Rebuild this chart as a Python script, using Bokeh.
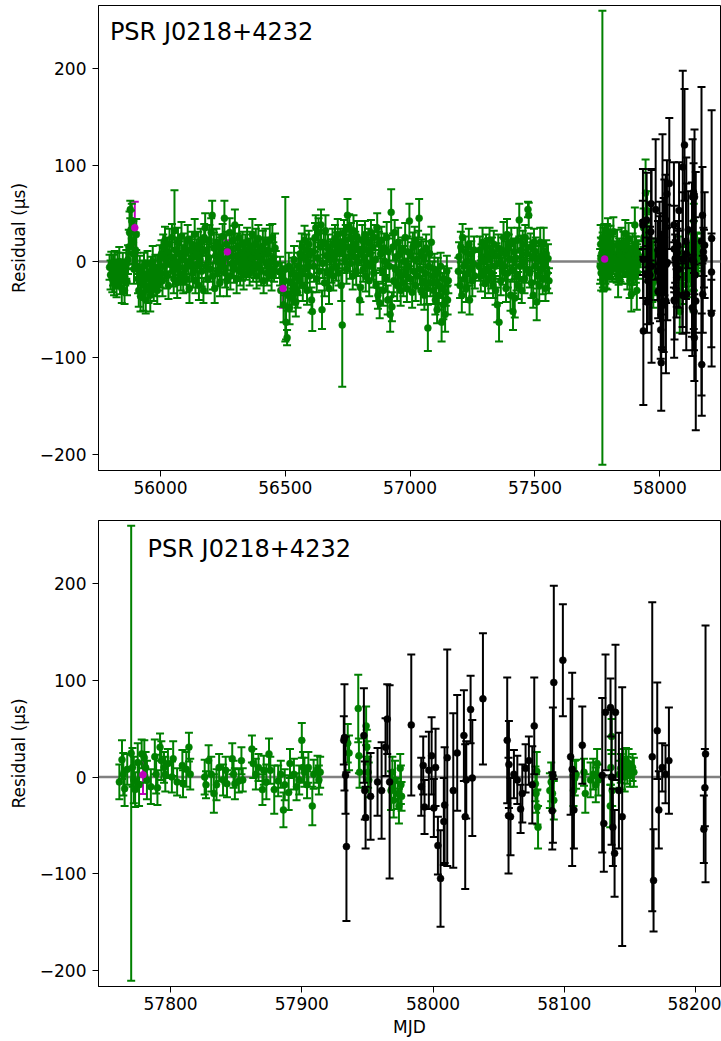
import numpy as np
from bokeh.plotting import figure
from bokeh.layouts import column
from bokeh.models import Range1d, Span, Label, FixedTicker, ColumnDataSource
from bokeh.embed import file_html
from bokeh.resources import INLINE

# ---------------- data (MJD, residual in us, uncertainty in us) ----------------
psr_name = "PSR J0218+4232"
y_label = "Residual (μs)"
x_label = "MJD"
top_xticks = [56000, 56500, 57000, 57500, 58000]
bottom_xticks = [57800, 57900, 58000, 58100, 58200]
yticks = [-200, -100, 0, 100, 200]
ytick_text = {-200: "−200", -100: "−100", 0: "0", 100: "100", 200: "200"}

green_early = [
    (55796, -6, 13), (55800, -14, 15), (55803, -2, 12), (55807, -18, 14), (55810, -9, 16),
    (55814, -22, 13), (55817, -4, 15), (55821, -12, 14), (55824, -25, 12), (55828, -7, 16),
    (55831, -15, 13), (55835, 0, 15), (55838, -20, 14), (55842, -10, 12), (55845, -28, 15),
    (55849, -5, 14), (55852, -17, 16), (55856, -30, 14), (55859, -12, 13), (55863, -3, 15),
    (55866, -21, 14),
    (55870, 2, 15), (55873, 15, 18), (55876, 30, 22), (55879, 54, 9), (55882, 33, 20),
    (55885, 42, 18), (55888, 8, 16), (55891, 20, 22), (55894, -8, 15), (55900, 12, 18),
    (55903, 28, 16), (55906, -5, 14),
    (55910, -18, 15), (55913, -30, 17), (55917, -8, 14), (55920, -36, 16), (55924, -22, 15),
    (55927, -12, 13), (55931, -33, 18), (55934, -5, 14), (55938, -25, 15), (55941, -40, 14),
    (55945, -15, 16), (55948, -2, 13), (55952, -28, 15), (55955, -18, 14), (55959, -35, 17),
    (55962, -10, 15), (55966, -22, 13), (55969, 0, 16), (55973, -27, 14), (55976, -14, 15),
    (55980, -6, 13), (55983, -20, 16), (55987, -30, 14), (55990, -9, 15), (55994, -17, 13),
    (55997, 3, 14),
    (56001, -12, 15), (56004, 8, 14), (56008, -20, 16), (56011, 15, 13), (56015, -5, 15),
    (56018, 22, 14), (56022, 2, 16), (56025, -15, 13), (56029, 10, 15), (56032, -25, 14),
    (56036, 18, 16), (56039, -3, 13), (56043, 5, 15), (56046, 25, 14), (56050, -10, 16),
    (56053, -18, 15), (56056, 32, 42), (56060, 0, 14), (56063, 12, 13), (56067, -22, 16),
    (56070, 20, 15), (56074, -6, 14), (56077, 8, 13), (56081, -14, 16), (56084, 26, 15),
    (56088, 3, 14), (56091, -20, 13), (56095, 14, 15), (56098, -8, 16),
    (56102, 10, 15), (56105, -18, 14), (56109, 22, 16), (56112, 0, 13), (56116, -28, 15),
    (56119, 12, 14), (56123, -5, 16), (56126, 18, 13), (56130, -12, 15), (56133, 5, 14),
    (56137, 28, 16), (56140, -20, 13), (56144, 8, 15), (56147, -3, 14), (56151, 15, 16),
    (56154, -25, 15), (56158, 2, 13), (56161, 20, 14), (56165, -10, 16), (56168, 10, 15),
    (56172, -30, 13), (56175, 25, 14), (56179, 35, 15), (56182, -5, 16), (56186, 12, 13),
    (56189, -18, 15), (56193, 4, 14), (56196, 22, 16), (56200, -8, 13), (56203, 30, 15),
    (56207, 48, 15), (56210, -15, 14), (56214, 14, 16), (56217, -28, 15), (56221, 6, 13),
    (56224, 20, 14), (56228, -10, 16), (56231, 0, 15), (56235, 15, 13), (56238, -22, 14),
    (56242, 9, 16), (56245, -4, 15), (56249, 26, 13),
    (56252, 2, 14), (56256, 45, 18), (56259, -12, 15), (56263, 18, 13), (56266, -20, 16),
    (56270, 5, 14), (56277, 30, 15), (56280, -15, 14), (56284, 12, 16), (56287, -2, 13),
    (56291, 22, 15), (56294, -8, 14), (56298, 38, 16), (56301, 6, 13), (56305, -18, 15),
    (56308, 15, 14), (56312, 0, 16), (56315, 25, 13), (56319, -10, 15), (56322, 8, 14),
    (56326, -4, 16), (56329, 18, 13), (56333, -14, 15), (56336, 3, 14), (56340, 12, 16),
    (56343, -6, 13), (56347, 20, 15), (56350, -2, 14), (56354, 8, 16), (56357, -12, 13),
    (56361, 16, 15), (56364, 4, 14), (56368, 28, 16), (56371, -8, 13), (56375, 10, 15),
    (56378, -3, 14), (56382, 18, 16), (56385, -15, 13), (56389, 6, 15), (56392, 24, 14),
    (56396, -5, 16), (56399, 12, 13), (56403, -10, 15), (56406, 2, 14), (56410, 16, 16),
    (56413, -20, 13), (56417, 8, 15), (56420, 20, 14), (56424, -2, 16), (56427, -12, 13),
    (56431, 10, 15), (56434, -6, 14), (56438, 22, 16), (56441, 0, 13), (56445, -15, 15),
    (56448, 25, 14), (56452, 4, 16), (56455, -8, 13), (56459, 14, 15), (56462, -3, 14),
    (56479, -10, 15), (56482, -30, 17), (56486, -15, 14), (56493, -45, 18), (56497, -20, 15),
    (56500, -8, 75), (56503, -63, 18), (56507, -79, 8), (56510, -35, 16), (56514, -5, 14),
    (56517, -48, 17), (56521, -22, 15), (56524, -38, 14), (56528, -12, 16), (56531, -30, 15),
    (56535, 2, 14), (56538, -25, 16), (56542, -42, 15), (56545, -15, 13), (56549, -32, 16),
    (56552, -5, 14), (56556, -20, 15), (56559, 8, 13),
    (56563, -12, 15), (56566, 15, 14), (56570, -25, 16), (56573, 5, 13), (56577, 22, 15),
    (56580, -8, 14), (56584, 12, 16), (56587, -30, 15), (56591, 0, 13), (56594, 18, 14),
    (56598, -15, 16), (56601, 8, 15), (56605, -40, 13), (56608, -52, 20), (56612, 10, 14),
    (56615, -5, 16), (56619, 25, 15), (56622, 35, 13), (56626, -18, 14), (56629, 4, 16),
    (56633, 30, 15), (56636, -10, 13), (56640, 15, 14), (56643, 38, 16), (56647, -50, 20),
    (56650, -2, 15), (56654, 20, 13), (56657, -22, 14), (56661, 32, 16), (56664, 6, 15),
    (56668, -12, 13), (56671, 14, 14), (56675, -28, 16), (56678, 2, 15), (56682, 10, 13),
    (56685, -8, 14), (56689, 18, 16), (56692, -15, 15), (56696, 5, 13), (56699, 24, 14),
    (56703, -5, 15), (56706, 16, 14), (56710, 28, 16), (56713, -12, 13), (56717, 8, 15),
    (56720, 20, 14), (56724, -25, 16), (56728, -66, 64), (56731, 12, 15), (56735, 30, 13),
    (56738, 2, 14), (56742, 22, 16), (56745, -8, 15), (56749, 48, 17), (56752, 15, 13),
    (56756, 35, 14), (56759, -2, 16), (56763, 25, 15), (56766, 10, 13), (56770, -15, 14),
    (56773, 32, 16), (56777, 5, 15), (56780, 18, 13), (56784, -10, 14), (56787, 26, 16),
    (56791, 0, 15), (56794, 12, 13), (56798, -40, 15),
    (56801, -27, 15), (56805, 10, 14), (56808, 22, 16), (56812, -8, 13), (56815, 5, 15),
    (56819, 28, 14), (56822, -15, 16), (56826, 12, 13), (56829, -3, 15), (56833, 20, 14),
    (56836, -20, 16), (56840, 8, 15), (56843, 30, 13), (56847, -5, 14), (56850, 15, 16),
    (56854, -12, 15), (56857, 25, 13), (56861, 2, 14), (56864, -25, 16), (56868, 35, 15),
    (56871, -35, 14), (56875, 18, 13), (56878, -43, 16), (56882, 8, 15), (56885, 22, 14),
    (56889, -10, 13), (56892, -30, 16), (56896, 14, 15), (56899, 0, 14), (56903, -18, 13),
    (56906, 25, 16), (56910, -40, 15), (56913, 10, 14), (56917, -5, 16), (56920, -55, 18),
    (56924, 51, 24), (56927, -47, 15), (56931, 15, 14), (56934, -20, 16), (56938, 30, 13),
    (56941, -8, 15), (56945, 5, 14), (56948, -25, 16), (56952, 20, 15), (56955, -12, 13),
    (56959, 8, 14), (56962, -30, 16), (56966, -15, 15), (56969, 12, 13), (56973, -22, 14),
    (56976, 0, 16), (56980, 25, 15), (56983, -10, 13), (56987, -28, 14), (56990, 10, 16),
    (56994, -5, 15), (56997, 42, 18), (57001, -18, 13), (57004, 6, 14), (57008, -32, 16),
    (57011, 15, 15), (57015, -10, 13), (57018, 22, 14), (57022, -25, 16), (57025, 2, 15),
    (57029, -15, 13), (57032, 18, 14), (57036, 45, 20), (57039, -8, 16), (57043, -30, 15),
    (57046, 10, 13), (57050, -20, 14), (57053, 5, 16), (57057, -35, 15), (57060, -12, 13),
    (57064, 14, 14), (57067, -28, 16), (57071, -69, 24), (57074, -5, 15), (57078, 8, 13),
    (57081, -22, 14), (57085, 20, 16),
    (57090, -15, 15), (57094, -30, 14), (57097, -8, 16), (57101, -40, 15), (57104, -22, 13),
    (57108, -50, 14), (57111, -12, 16), (57115, -35, 15), (57118, -25, 13), (57122, -5, 14),
    (57126, -63, 20), (57129, -28, 16), (57133, -45, 15), (57136, -18, 13), (57140, -55, 18),
    (57143, -32, 14), (57147, -10, 16), (57150, -40, 15), (57153, -20, 13),
    (57193, -10, 14), (57196, 5, 15), (57200, -25, 13), (57203, 15, 16), (57207, -35, 18),
    (57210, 25, 14), (57214, -5, 15), (57217, -18, 13), (57221, 10, 16), (57224, -28, 14),
    (57228, 0, 15), (57231, -12, 13), (57235, 18, 16), (57238, -40, 15), (57242, -8, 14),
    (57245, 8, 13), (57249, -20, 16), (57252, -2, 15), (57256, 12, 14), (57259, -15, 13),
    (57276, -5, 15), (57279, 12, 14), (57283, -15, 16), (57286, 5, 13), (57290, 20, 15),
    (57293, -10, 14), (57297, 0, 16), (57300, -23, 15), (57304, 15, 13), (57307, -8, 14),
    (57311, 8, 16), (57314, -18, 15), (57318, 22, 13), (57321, 2, 14), (57325, -12, 16),
    (57328, 10, 15), (57332, -25, 13), (57335, 18, 14), (57339, -5, 16), (57342, -30, 15),
    (57346, 6, 13), (57349, -45, 18), (57353, 14, 14), (57356, -63, 20), (57360, -2, 16),
    (57363, -20, 15), (57367, 12, 13), (57370, -10, 14), (57374, 25, 16), (57377, -5, 15),
    (57381, 8, 13), (57384, -28, 14), (57388, 28, 16), (57391, -12, 15), (57395, 15, 13),
    (57398, 2, 14), (57402, -35, 16), (57405, 20, 15), (57409, -8, 13), (57412, -52, 19),
    (57416, 10, 14), (57419, -38, 20), (57423, 4, 16), (57426, -15, 15), (57430, 22, 13),
    (57433, -25, 14), (57437, 43, 17), (57440, -5, 16), (57444, 12, 15), (57447, -30, 13),
    (57451, 18, 14), (57454, 0, 16), (57458, -18, 15), (57461, 25, 13), (57465, -8, 14),
    (57468, 8, 16), (57472, 54, 8), (57475, 48, 13), (57479, -12, 15), (57482, 15, 14),
    (57486, -22, 16), (57489, 5, 15), (57493, -35, 13), (57496, 20, 14), (57500, -5, 16),
    (57503, 10, 15), (57507, -42, 19), (57510, -15, 13), (57514, 2, 14), (57517, -25, 16),
    (57521, 20, 15), (57524, -8, 13), (57528, 6, 14), (57531, -18, 16), (57535, 18, 17),
    (57538, -2, 15), (57542, -28, 13), (57545, 8, 14), (57549, -12, 16), (57552, 3, 15),
    (57556, -20, 13),
]

green_late = [
    (57761, -5, 18), (57763, 18, 20), (57764, 3, 22), (57765, -12, 18), (57767, 8, 16),
    (57770, 24.6, 235.6), (57771, 10, 20), (57772, -3, 24), (57773, -13, 18), (57775, 15, 20),
    (57776, -8, 22), (57778, 24, 15), (57780, 20, 18), (57781, 10, 16), (57782, -3, 20),
    (57785, -10, 18), (57788, 21, 18), (57789, 3, 20), (57790, -11, 18), (57792, 31, 14),
    (57793, 17, 20), (57795, 10, 16), (57796, 3, 18), (57798, 14, 15), (57801, 0, 16),
    (57802, 19, 18), (57805, -5, 14), (57809, 12, 16), (57809.5, -7, 14), (57812, 8, 18),
    (57814, 31, 15), (57815, 3, 16), (57826, 0, 18), (57827, -8, 14), (57829, 17, 16),
    (57831, 3, 18), (57833, -17, 20), (57835, -8, 16), (57837, 10, 14), (57840, -3, 16),
    (57842, 7, 14), (57843, -7, 14), (57847, 19, 16), (57848, 3, 14), (57849, -7, 16),
    (57852, -4, 12), (57854, 17, 14), (57855, -3, 12), (57862, 29, 14), (57863, 14, 15),
    (57865, 3, 16), (57867, 10, 14), (57870, -13, 16), (57871, 7, 15), (57873, -5, 18),
    (57875, 24, 16), (57876, 7, 14), (57879, -13, 25), (57882, -4, 16), (57884, 3, 14),
    (57886, -34, 18), (57887, -8, 16), (57890, -16, 18), (57891, 14, 15), (57894, 3, 16),
    (57896, -10, 14), (57898, -3, 15), (57900, 38, 18), (57901, 10, 16), (57902, 5, 15),
    (57904, -8, 14), (57905, 10, 16), (57908, -30, 20), (57909, 3, 15), (57912, 8, 14),
    (57913, -3, 15), (57914, 5, 16),
    (57935, 35, 20), (57936, 25, 18), (57943, 71, 35), (57943.5, 22, 18), (57944, 5, 16),
    (57949, 53, 20), (57949.5, 31, 18), (57950, 17, 20), (57950.5, 5, 16), (57951, -3, 18),
    (57968, -14, 20), (57969, 5, 16), (57970, -24, 18), (57971, -3, 20), (57973, -17, 16),
    (57974, -30, 18), (57975, 9, 15), (57975.5, -8, 20), (57976, -20, 15),
    (58078, -7, 18), (58078.5, -17, 20), (58079, 6, 20), (58079.5, -31, 18), (58080, -52, 22),
    (58089, -14, 18), (58090, -5, 20), (58091, -17, 18), (58092, -24, 20),
    (58107, -14, 16), (58108, -1, 18), (58109, 3, 15), (58115, 5, 14), (58116, -17, 20),
    (58120, -3, 18), (58122, 3, 16), (58124, -8, 18), (58125, 14, 15), (58126, -3, 16),
    (58135, -30, 22), (58135.5, 10, 18), (58136, 42, 18), (58136.5, -14, 16),
    (58142, 3, 14), (58143, 9, 15), (58144, 3, 16), (58145, 15, 14), (58146, 0, 15),
    (58147, 17, 13), (58148, 7, 14), (58149, 14, 15), (58150, 3, 13), (58152, 10, 14),
    (58153, 5, 15),
]

black_pts = [
    (57932.0, 38, 25), (57932.5, 41, 55), (57933.3, 2, 40), (57934.0, -72, 77),
    (57947.3, 43, 49), (57948.0, -14, 30), (57948.6, -42, 32), (57952.4, -20, 45),
    (57957.7, -5, 35), (57960.8, -14, 50), (57963.8, 31, 30), (57965.1, 60, 36),
    (57966.9, -5, 100), (57983.4, 54, 73), (57991.0, -10, 30), (57992.5, 12, 30),
    (57993.5, -31, 28), (57996.8, 7, 40), (57998.9, 22, 40), (58000.6, -32, 30),
    (58001.9, 10, 40), (58003.7, -71, 30), (58005.7, -105, 50), (58008.2, -46, 45),
    (58008.8, -29, 60), (58010.8, 20, 112), (58015.4, -14, 80), (58018.4, 25, 60),
    (58023.5, 43, 47), (58024.5, -41, 75), (58025.3, -3, 40), (58028.6, 70, 35),
    (58029.9, -1, 60), (58038.0, 81, 68), (58056.5, 38, 65), (58057.5, -40, 60),
    (58057.8, 13, 45), (58059.0, -41, 40), (58061.6, 3, 25), (58064.2, -3, 25),
    (58066.7, -33, 25), (58068.0, -17, 30), (58070.5, 9, 25), (58073.0, 17, 25),
    (58075.6, -8, 40), (58077.1, 53, 50), (58090.8, -35, 40), (58091.3, 2, 70),
    (58092.0, 98, 100), (58098.9, 121, 58), (58104.8, 21, 60), (58106.0, 8, 100),
    (58107.3, -34, 40), (58113.7, 33, 40), (58128.9, 2, 80), (58130.1, -48, 50),
    (58131.4, 67, 60), (58135.2, 72, 30), (58136.0, 0, 70), (58137.0, -52, 40),
    (58138.3, -79, 45), (58139.0, 67, 70), (58141.6, -14, 60), (58144.1, -41, 134),
    (58167.0, 21, 160), (58168.0, -107, 53), (58170.8, 48, 50), (58172.0, -34, 40),
    (58174.6, 10, 25), (58177.1, 3, 30), (58179.7, 17, 55), (58206.3, -54, 35),
    (58207.1, -11, 40), (58207.6, 24, 133),
]

magenta_pts = [
    (55897, 35, 27), (56268, 10, 12), (56491, -28, 20), (57779, 2.5, 20),
]

GREEN = "#008000"
BLACK = "#000000"
MAGENTA = "#bf00bf"
FONT = "DejaVu Sans"


def make_source(rows):
    m, r, e = (np.array(v, dtype=float) for v in zip(*rows))
    return ColumnDataSource(dict(x=m, y=r, lo=r - e, hi=r + e))


src_green_early = make_source(green_early)
src_green_late = make_source(green_late)
src_black = make_source(black_pts)
src_magenta = make_source(magenta_pts)

LW = 2.0


def draw_bars(p, src, color):
    p.segment(x0="x", y0="lo", x1="x", y1="hi", source=src,
              line_color=color, line_width=LW)
    p.scatter(x="x", y="lo", source=src, marker="dash", size=8,
              line_color=color, line_width=LW)
    p.scatter(x="x", y="hi", source=src, marker="dash", size=8,
              line_color=color, line_width=LW)


def draw_points(p, src, color):
    p.scatter(x="x", y="y", source=src, marker="circle", size=7,
              fill_color=color, line_color=color, line_width=0.5)


def make_panel(x_start, x_end, xticks, border_top, border_bottom, frame_h,
               title_x, title_y, show_xlabel):
    p = figure(frame_width=622, frame_height=frame_h,
               x_range=Range1d(x_start, x_end), y_range=Range1d(-216.9, 265.7),
               min_border_left=98, min_border_right=1,
               min_border_top=border_top, min_border_bottom=border_bottom,
               output_backend="svg", toolbar_location=None)
    p.xgrid.visible = False
    p.ygrid.visible = False
    p.outline_line_color = "black"
    p.outline_line_width = 1
    p.outline_line_alpha = 1.0
    p.background_fill_color = "white"
    p.border_fill_color = "white"

    p.xaxis.ticker = FixedTicker(ticks=xticks)
    p.yaxis.ticker = FixedTicker(ticks=yticks)
    p.yaxis.major_label_overrides = ytick_text
    for ax in (p.xaxis[0], p.yaxis[0]):
        ax.axis_line_color = "black"
        ax.axis_line_width = 1
        ax.major_tick_line_color = "black"
        ax.major_tick_line_width = 1
        ax.major_tick_out = 6
        ax.major_tick_in = 0
        ax.minor_tick_line_color = None
        ax.major_label_text_font = FONT
        ax.major_label_text_font_size = "17px"
        ax.major_label_text_color = "black"
        ax.axis_label_text_font = FONT
        ax.axis_label_text_font_size = "17px"
        ax.axis_label_text_font_style = "normal"
        ax.axis_label_text_color = "black"
    p.xaxis.major_label_standoff = 4
    p.yaxis.major_label_standoff = 6
    p.yaxis.axis_label = y_label
    p.yaxis.axis_label_standoff = 8
    if show_xlabel:
        p.xaxis.axis_label = x_label
        p.xaxis.axis_label_standoff = 4

    p.add_layout(Span(location=0, dimension="width", line_color="#808080",
                      line_width=2.5, level="underlay"))

    # magenta bars underneath, then green, then black, magenta dots on top
    draw_bars(p, src_magenta, MAGENTA)
    draw_bars(p, src_green_early, GREEN)
    draw_bars(p, src_green_late, GREEN)
    draw_points(p, src_green_early, GREEN)
    draw_points(p, src_green_late, GREEN)
    draw_bars(p, src_black, BLACK)
    draw_points(p, src_black, BLACK)
    draw_points(p, src_magenta, MAGENTA)

    p.add_layout(Label(x=title_x, y=title_y, text=psr_name, text_font=FONT,
                       text_font_size="24px", text_color="black",
                       text_baseline="alphabetic", text_align="left"))
    return p


p1 = make_panel(55751.7, 58243.1, top_xticks, 5, 40, 465, 55797.3, 238.1, False)
p2 = make_panel(57745.1, 58219.0, bottom_xticks, 10, 55, 466, 57782.5, 236.2, True)

layout = column(p1, p2)
open("out.html", "w").write(file_html(layout, INLINE))
